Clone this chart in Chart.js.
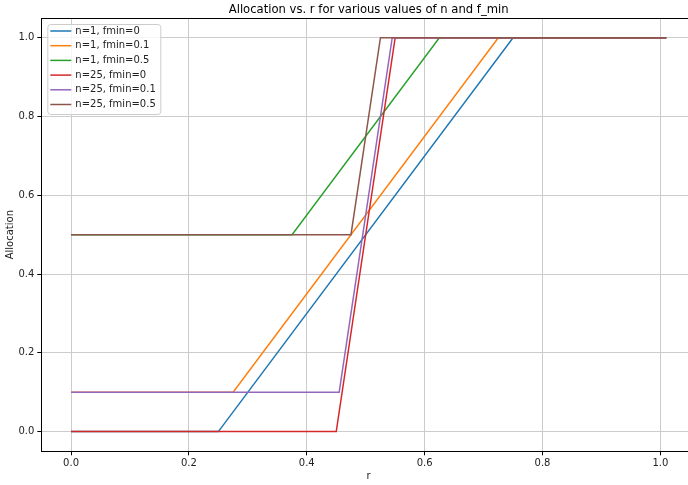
<!DOCTYPE html>
<html>
<head>
<meta charset="utf-8">
<script src="https://cdn.jsdelivr.net/npm/chart.js@4"></script>
<style>
  html, body { margin: 0; padding: 0; background: #fff; overflow: hidden; }
  #wrap { width: 697px; height: 485px; }
</style>
</head>
<body>
<div id="wrap"><canvas id="chart" width="697" height="485"></canvas></div>
<script>
// breakpoints (r on x, allocation on y)
const seriesLabels = [
  'n=1, fmin=0', 'n=1, fmin=0.1', 'n=1, fmin=0.5',
  'n=25, fmin=0', 'n=25, fmin=0.1', 'n=25, fmin=0.5'
];
const seriesColors = ['#1f77b4', '#ff7f0e', '#2ca02c', '#d62728', '#9467bd', '#8c564b'];

const n1f0R = [0, 0.25, 0.75, 1.01];
const n1f0A = [0, 0, 1, 1];
const n1f01R = [0, 0.275, 0.725, 1.01];
const n1f01A = [0.1, 0.1, 1, 1];
const n1f05R = [0, 0.375, 0.625, 1.01];
const n1f05A = [0.5, 0.5, 1, 1];
const n25f0R = [0, 0.45, 0.55, 1.01];
const n25f0A = [0, 0, 1, 1];
const n25f01R = [0, 0.455, 0.545, 1.01];
const n25f01A = [0.1, 0.1, 1, 1];
const n25f05R = [0, 0.475, 0.525, 1.01];
const n25f05A = [0.5, 0.5, 1, 1];

const xTicks = [0, 0.2, 0.4, 0.6, 0.8, 1.0];
const yTicks = [0, 0.2, 0.4, 0.6, 0.8, 1.0];

const titleText = 'Allocation vs. r for various values of n and f_min';

const allR = [n1f0R, n1f01R, n1f05R, n25f0R, n25f01R, n25f05R];
const allA = [n1f0A, n1f01A, n1f05A, n25f0A, n25f01A, n25f05A];

Chart.defaults.font.family = 'DejaVu Sans';
Chart.defaults.color = '#222';

function toPoints(rs, as) {
  return rs.map((r, i) => ({ x: r, y: as[i] }));
}

const datasets = seriesLabels.map((label, i) => ({
  label: label,
  data: toPoints(allR[i], allA[i]),
  borderColor: seriesColors[i],
  backgroundColor: seriesColors[i],
  borderWidth: 1.5,
  pointRadius: 0,
  tension: 0,
  fill: false,
  order: seriesLabels.length - i, // later series on top, like matplotlib
}));

// top / right spines
const frame = {
  id: 'frame',
  afterDatasetsDraw(chart) {
    const { ctx, chartArea: a } = chart;
    ctx.save();
    ctx.strokeStyle = '#000';
    ctx.lineWidth = 1;
    ctx.strokeRect(Math.round(a.left) + 0.5, Math.round(a.top) + 0.5,
      Math.round(a.right - a.left), Math.round(a.bottom - a.top));
    ctx.restore();
  }
};

// title centred over the axes, not the canvas
const axesTitle = {
  id: 'axesTitle',
  afterDraw(chart) {
    const { ctx, chartArea: a } = chart;
    ctx.save();
    ctx.font = '11.6px "DejaVu Sans"';
    ctx.fillStyle = '#000';
    ctx.textAlign = 'center';
    ctx.textBaseline = 'middle';
    ctx.fillText(titleText, (a.left + a.right) / 2, a.top - 8.5);
    ctx.restore();
  }
};

// matplotlib-style legend box in the upper left of the axes
const innerLegend = {
  id: 'innerLegend',
  afterDraw(chart) {
    const { ctx, chartArea: a } = chart;
    const x0 = a.left + 6, y0 = a.top + 6;
    const w = 113, h = 90, rowH = 14.7;
    ctx.save();
    ctx.beginPath();
    ctx.roundRect(x0 + 0.5, y0 + 0.5, w, h, 3);
    ctx.fillStyle = 'rgba(255,255,255,0.8)';
    ctx.fill();
    ctx.strokeStyle = '#cccccc';
    ctx.lineWidth = 1;
    ctx.stroke();
    ctx.font = '10px "DejaVu Sans"';
    ctx.textBaseline = 'middle';
    chart.data.datasets.forEach((ds, i) => {
      const y = y0 + 7 + i * rowH;
      ctx.strokeStyle = ds.borderColor;
      ctx.lineWidth = 1.5;
      ctx.beginPath();
      ctx.moveTo(x0 + 3, y);
      ctx.lineTo(x0 + 24, y);
      ctx.stroke();
      ctx.fillStyle = '#222';
      ctx.fillText(ds.label, x0 + 28, y);
    });
    ctx.restore();
  }
};

new Chart(document.getElementById('chart'), {
  type: 'line',
  data: { datasets: datasets },
  options: {
    responsive: false,
    animation: false,
    devicePixelRatio: 1,
    layout: { padding: { left: 0, right: 1, top: 18, bottom: 0 } },
    plugins: {
      legend: { display: false },
      tooltip: { enabled: false },
      title: { display: false },
    },
    scales: {
      x: {
        type: 'linear',
        min: -0.0505,
        max: 1.0605,
        afterBuildTicks: s => { s.ticks = xTicks.map(v => ({ value: v })); },
        afterFit: s => { s.height = 33.7; },
        ticks: {
          font: { size: 10 },
          padding: 2,
          maxRotation: 0,
          callback: v => v.toFixed(1),
        },
        grid: { color: '#cccccc', lineWidth: 1, tickColor: '#000', tickLength: 4 },
        border: { color: '#000', width: 1 },
        title: { display: true, text: 'r', font: { size: 10 }, padding: { top: 0, bottom: 3 } },
      },
      y: {
        type: 'linear',
        min: -0.05,
        max: 1.05,
        afterBuildTicks: s => { s.ticks = yTicks.map(v => ({ value: v })); },
        afterFit: s => { s.width = 41.3; },
        ticks: {
          font: { size: 10 },
          padding: 3,
          callback: v => v.toFixed(1),
        },
        grid: { color: '#cccccc', lineWidth: 1, tickColor: '#000', tickLength: 4 },
        border: { color: '#000', width: 1 },
        title: { display: true, text: 'Allocation', font: { size: 10 }, padding: { top: 4, bottom: 0 } },
      },
    },
  },
  plugins: [frame, axesTitle, innerLegend],
});
</script>
</body>
</html>
